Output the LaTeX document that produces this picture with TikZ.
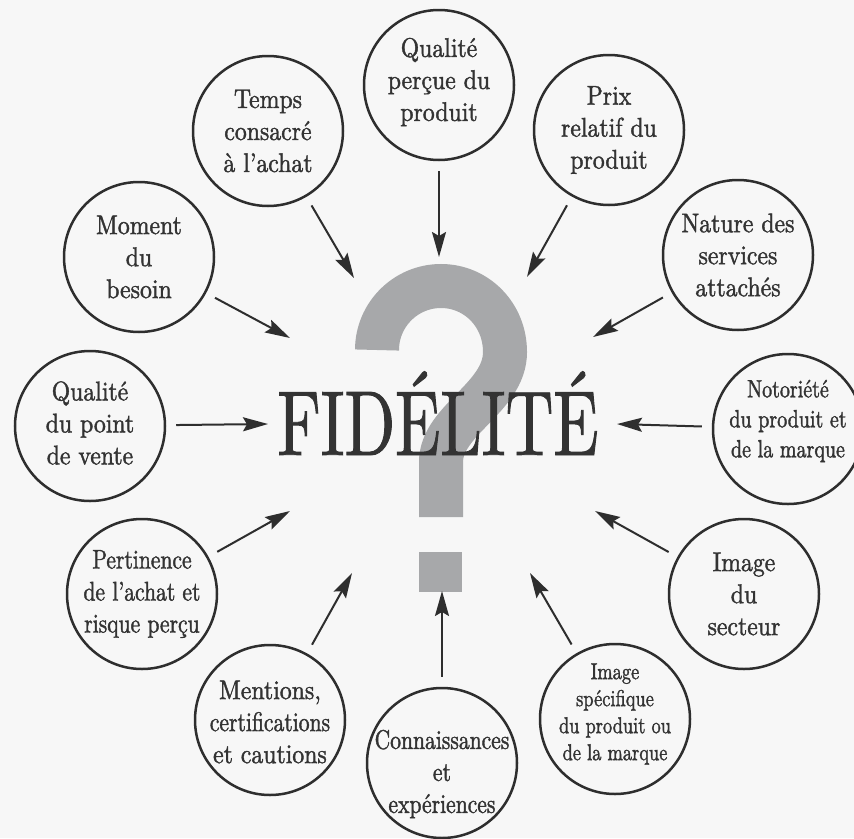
\documentclass[tikz,border=0pt]{standalone}
\usepackage{fontspec}
\usepackage{graphicx}
\usetikzlibrary{arrows.meta}
\newfontfamily\fA{lmroman10-regular.otf}[FakeStretch=0.88,FakeBold=1.4]
\newfontfamily\fB{lmroman10-regular.otf}[FakeStretch=0.80,FakeBold=1.4]
\newfontfamily\bigfont{lmroman10-regular.otf}[FakeStretch=0.72,FakeBold=1.0]
\definecolor{ink}{HTML}{2E2E2E}
\definecolor{txt}{HTML}{333333}
\definecolor{qgray}{HTML}{A7A8AA}
\definecolor{paper}{HTML}{F7F7F7}
\begin{document}
\begin{tikzpicture}[x=1pt,y=-1pt,
  circ/.style={circle,draw=ink,line width=2.5pt,minimum size=150pt,inner sep=0pt},
  lbl/.style={align=center,text=txt,font=\fA\fontsize{27}{32}\selectfont,inner sep=0pt},
  lblB/.style={align=center,text=txt,font=\fB\fontsize{27}{32}\selectfont,inner sep=0pt},
  arr/.style={draw=ink,line width=2pt,-{Stealth[length=25pt,width=14pt,inset=4pt]},shorten <=10pt},
  qm/.style={draw=qgray,line width=44pt}]
\fill[paper] (0,0) rectangle (854,838);
\useasboundingbox (0,0) rectangle (854,838);

% question mark
\draw[qm] (377,350) .. controls (377,314.7) and (405.7,286) .. (441,286)
  .. controls (476.3,286) and (505,314.7) .. (505,352)
  .. controls (505,398) and (441,420) .. (441,462) -- (441,517);
\fill[qgray] (419,552) rectangle (462,592);
\node[font=\bigfont\fontsize{92}{92}\selectfont, text=txt, anchor=base, inner sep=0pt] (fid) at (438,455) {FIDÉLITÉ};

% circles
\node[circ] (qp) at (439,85) {};
\node[circ] (tp) at (268,131) {};
\node[circ] (px) at (609,130) {};
\node[circ] (mo) at (139,257) {};
\node[circ] (na) at (738,255) {};
\node[circ] (qv) at (90,426) {};
\node[circ] (no) at (788,429) {};
\node[circ] (pe) at (142,594) {};
\node[circ] (is) at (744,594) {};
\node[circ] (me) at (270,720) {};
\node[circ] (co) at (442,763) {};
\node[circ] (sp) at (615,719) {};

% labels
\node[lbl] at (439,82) {Qualité\\perçue du\\produit};
\node[lbl] at (268,131) {Temps\\consacré\\à l’achat};
\node[lbl] at (609,130) {Prix\\relatif du\\produit};
\node[lbl] at (139,257) {Moment\\du\\besoin};
\node[lbl] at (738,255) {Nature des\\services\\attachés};
\node[lbl] at (90,423) {Qualité\\du point\\de vente};
\node[lblB,font=\fB\fontsize{25}{30}\selectfont] at (788,421) {Notoriété\\du produit et\\de la marque};
\node[lblB] at (142,594) {Pertinence\\de l’achat et\\risque perçu};
\node[lbl] at (744,594) {Image\\du\\secteur};
\node[lbl] at (270,722) {Mentions,\\{\fB certifications}\\et cautions};
\node[lblB] at (442,774) {Connaissances\\et\\expériences};
\node[lblB,font=\fB\fontsize{23}{27}\selectfont] at (615,714) {Image\\spécifique\\du produit ou\\de la marque};

% arrow ends
\coordinate (eqp) at (439,257);
\coordinate (etp) at (354,278);
\coordinate (epx) at (527,277);
\coordinate (emo) at (290,338);
\coordinate (ena) at (593,337);
\coordinate (eqv) at (268,424);
\coordinate (eno) at (617,424);
\coordinate (epe) at (290,511);
\coordinate (eis) at (595,511);
\coordinate (eme) at (352,573);
\coordinate (eco) at (442,591);
\coordinate (esp) at (530,573);

\foreach \c in {qp,tp,px,mo,na,qv,no,pe,is,me,co,sp}
  \draw[arr] (\c) -- (e\c);
\end{tikzpicture}
\end{document}
